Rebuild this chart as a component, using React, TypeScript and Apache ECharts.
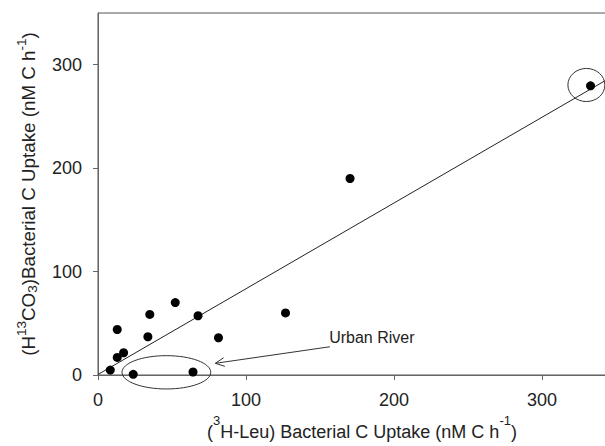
import React, { useEffect, useRef } from "react";
import * as echarts from "echarts";

// Bacterial C uptake: [3H-Leu, H13CO3] (nM C h-1)
const LEU_UPTAKE = [8.3, 13, 17.3, 13, 35, 33.7, 52.2, 67.6, 81.4, 23.8, 64.2, 126.7, 170.3, 332.8];
const HCO3_UPTAKE = [4.8, 17, 21.5, 44, 58.6, 37, 70, 57.3, 36, 0.7, 2.9, 60, 190, 279.6];

// regression line
const FIT_INTERCEPT = 0.5;
const FIT_SLOPE = 0.829;
const FIT_RANGE = [0, 350];

const X_TICKS = [0, 100, 200, 300];
const Y_TICKS = [0, 100, 200, 300];

// annotation ellipses: [centerX, centerY, radiusX, radiusY] in data units
const ELLIPSES = [
  [46.2, 2.6, 30, 16.1],
  [330, 280.4, 12.5, 16],
];
// annotation arrow: [fromX, fromY, toX, toY]
const ARROWS = [[156.7, 27.3, 79.3, 11.3]];
const NOTE_LABELS = ["Urban River"];
const NOTE_POS = [[156.2, 35.9]];

const FONT = '"Liberation Sans", Arial, Helvetica, sans-serif';

export default function App() {
  const ref = useRef<HTMLDivElement>(null);
  useEffect(() => {
    if (!ref.current) return;
    const chart = echarts.init(ref.current, null, { renderer: "svg" });
    const points = LEU_UPTAKE.map((x, i) => [x, HCO3_UPTAKE[i]]);
    const fit = FIT_RANGE.map((x) => [x, FIT_INTERCEPT + FIT_SLOPE * x]);
    const axisColor = "#666";
    const textColor = "#222";
    chart.setOption({
      animation: false,
      backgroundColor: "#fff",
      textStyle: { fontFamily: FONT },
      grid: {
        left: 98,
        top: 13,
        right: 0,
        bottom: 71,
        containLabel: false,
        outerBoundsMode: "none",
        show: true,
        borderColor: "#555",
        borderWidth: 1,
      },
      xAxis: {
        type: "value",
        min: 0,
        max: 350,
        interval: 50,
        splitLine: { show: false },
        axisLine: { lineStyle: { color: axisColor, width: 1 } },
        axisTick: { show: true, length: 5, lineStyle: { color: axisColor }, customValues: X_TICKS },
        axisLabel: { customValues: X_TICKS, fontSize: 18, color: textColor, margin: 16, fontFamily: FONT },
        name: "({sup|3}H-Leu) Bacterial C Uptake (nM C h{sup|-1})",
        nameLocation: "middle",
        nameGap: 24,
        nameTextStyle: {
          fontSize: 18,
          color: textColor,
          fontFamily: FONT,
          padding: [0, 0, 0, 10],
          rich: {
            sup: { fontSize: 13, fontFamily: FONT, color: textColor, padding: [0, 0, 24, 0] },
          },
        },
      },
      yAxis: {
        type: "value",
        min: 0,
        max: 350,
        interval: 50,
        splitLine: { show: false },
        axisLine: { lineStyle: { color: axisColor, width: 1 } },
        axisTick: { show: true, length: 5, lineStyle: { color: axisColor }, customValues: Y_TICKS },
        axisLabel: { customValues: Y_TICKS, fontSize: 18, color: textColor, margin: 16, fontFamily: FONT },
        name: "(H{sup|13}CO{sub|3})Bacterial C Uptake (nM C h{sup|-1})",
        nameLocation: "middle",
        nameGap: 56,
        nameTextStyle: {
          fontSize: 18.8,
          color: textColor,
          fontFamily: FONT,
          rich: {
            sup: { fontSize: 13.5, fontFamily: FONT, color: textColor, padding: [0, 0, 14, 0] },
            sub: { fontSize: 13.5, fontFamily: FONT, color: textColor, padding: [8, 0, 0, 0] },
          },
        },
      },
      series: [
        {
          type: "line",
          data: fit,
          showSymbol: false,
          symbol: "none",
          clip: false,
          lineStyle: { color: "#222", width: 1 },
          z: 2,
        },
        {
          type: "scatter",
          data: points,
          symbol: "circle",
          symbolSize: 9,
          itemStyle: { color: "#000", opacity: 1 },
          z: 3,
        },
        {
          type: "custom",
          clip: false,
          data: ELLIPSES,
          renderItem: (params: any, api: any) => {
            const c = api.coord([api.value(0), api.value(1)]);
            const s = api.size([api.value(2), api.value(3)]);
            return {
              type: "ellipse",
              shape: { cx: c[0], cy: c[1], rx: s[0], ry: s[1] },
              style: { fill: "none", stroke: "#333", lineWidth: 1 },
            };
          },
          z: 4,
        },
        {
          type: "custom",
          clip: false,
          data: ARROWS,
          renderItem: (params: any, api: any) => {
            const a = api.coord([api.value(0), api.value(1)]);
            const b = api.coord([api.value(2), api.value(3)]);
            const ang = Math.atan2(a[1] - b[1], a[0] - b[0]);
            const len = 10;
            const spread = 0.45;
            const w1 = [b[0] + len * Math.cos(ang + spread), b[1] + len * Math.sin(ang + spread)];
            const w2 = [b[0] + len * Math.cos(ang - spread), b[1] + len * Math.sin(ang - spread)];
            return {
              type: "group",
              children: [
                {
                  type: "line",
                  shape: { x1: a[0], y1: a[1], x2: b[0], y2: b[1] },
                  style: { stroke: "#333", lineWidth: 1 },
                },
                {
                  type: "polyline",
                  shape: { points: [w1, b, w2] },
                  style: { stroke: "#333", lineWidth: 1, fill: "none" },
                },
              ],
            };
          },
          z: 4,
        },
        {
          type: "custom",
          clip: false,
          data: NOTE_POS.map((p, i) => ({ value: p, name: NOTE_LABELS[i] })),
          renderItem: (params: any, api: any) => {
            const c = api.coord([api.value(0), api.value(1)]);
            return {
              type: "text",
              x: c[0],
              y: c[1],
              style: {
                text: NOTE_LABELS[params.dataIndex],
                fontSize: 16,
                fontFamily: FONT,
                fill: textColor,
                align: "left",
                verticalAlign: "middle",
              },
            };
          },
          z: 5,
        },
      ],
    });
    return () => chart.dispose();
  }, []);
  return (
    <div
      style={{
        position: "absolute",
        left: 0,
        top: 0,
        width: 605,
        height: 446,
        overflow: "hidden",
        background: "#fff",
      }}
    >
      <div ref={ref} style={{ width: 616, height: 446 }} />
    </div>
  );
}
